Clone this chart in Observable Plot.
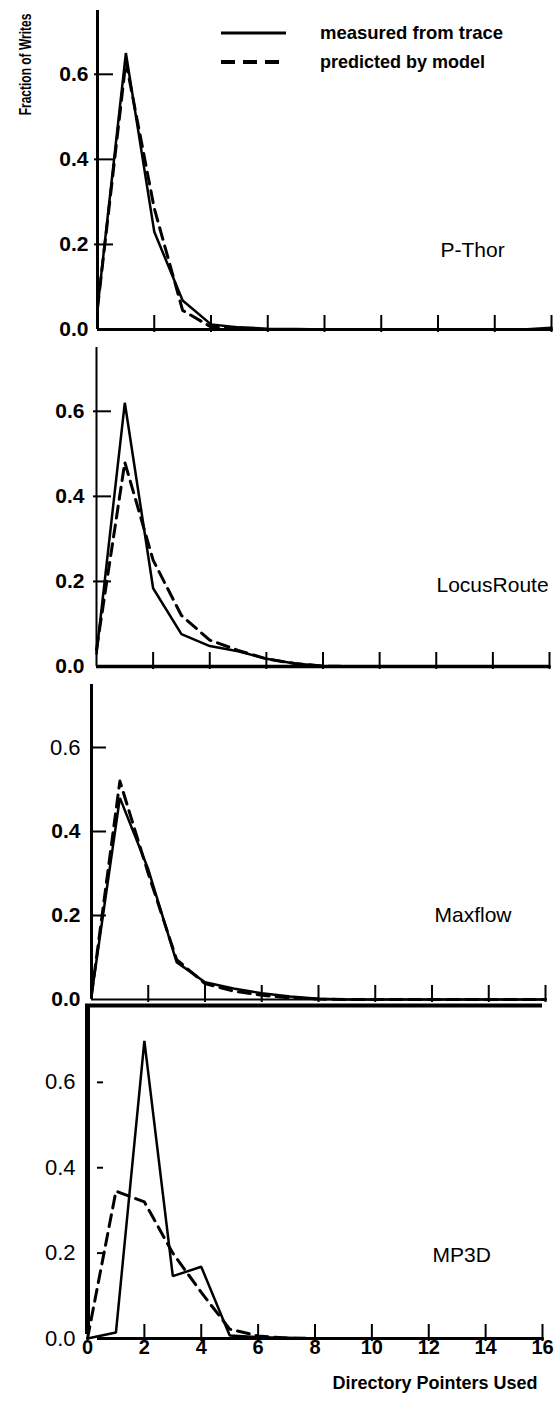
<!DOCTYPE html>
<html>
<head>
<meta charset="utf-8">
<script src="https://cdn.jsdelivr.net/npm/d3@7"></script>
<script src="https://cdn.jsdelivr.net/npm/@observablehq/plot@0.6"></script>
<style>
  html, body { margin: 0; padding: 0; background: #fff; }
  #chart { position: relative; width: 555px; height: 1401px; overflow: hidden; background: #fff;
           font-family: "Liberation Sans", Arial, Helvetica, sans-serif; }
  #chart svg { position: absolute; left: 0; }
</style>
</head>
<body>
<div id="chart"></div>
<script>
// ---------- data ----------
const pointers = [0, 1, 2, 3, 4, 5, 6, 7, 8, 9, 10, 11, 12, 13, 14, 15, 16];
const xTickValues = [2, 4, 6, 8, 10, 12, 14, 16];
const xTickLabels = [0, 2, 4, 6, 8, 10, 12, 14, 16];
const yTickValues = [0, 0.2, 0.4, 0.6];

const pthorMeasured = [0.05, 0.65, 0.23, 0.068, 0.012, 0.005, 0.002, 0.001, 0, 0, 0, 0, 0, 0, 0, 0, 0.004];
const pthorModel    = [0.05, 0.63, 0.285, 0.045, 0.006, 0.001, 0, 0, 0, 0, 0, 0, 0, 0, 0, 0, 0];

const locusMeasured = [0.03, 0.62, 0.184, 0.076, 0.048, 0.036, 0.018, 0.007, 0.001, 0, 0, 0, 0, 0, 0, 0, 0];
const locusModel    = [0.04, 0.48, 0.25, 0.12, 0.062, 0.038, 0.018, 0.007, 0.001, 0, 0, 0, 0, 0, 0, 0, 0];

const maxflowMeasured = [0.01, 0.48, 0.31, 0.089, 0.041, 0.026, 0.015, 0.007, 0.002, 0, 0, 0, 0, 0, 0, 0, 0];
const maxflowModel    = [0.01, 0.52, 0.30, 0.095, 0.038, 0.02, 0.01, 0.004, 0.001, 0, 0, 0, 0, 0, 0, 0, 0];

const mp3dMeasured = [0, 0.014, 0.697, 0.146, 0.168, 0.007, 0.003, 0.002, 0, 0, 0, 0, 0, 0, 0, 0, 0];
const mp3dModel    = [0, 0.345, 0.32, 0.2, 0.108, 0.022, 0.006, 0.001, 0, 0, 0, 0, 0, 0, 0, 0, 0];

const legendLabels = ["measured from trace", "predicted by model"];
const yTitle = "Fraction of Writes";
const xTitle = "Directory Pointers Used";

// ---------- layout ----------
const FONT = '"Liberation Sans", Arial, Helvetica, sans-serif';
const W = 555;
const panels = [
  { name: "P-Thor", measured: pthorMeasured, model: pthorModel,
    top: 0, height: 336, mT: 10, mB: 7, mL: 97, mR: 4, yMax: 0.75,
    axisW: 3, zeroW: 3, zeroInset: 0, yTickLen: 16, yTickIn: -3, tickDx: -9,
    boldLabels: [0, 0.2, 0.4, 0.6], labelDx: 343, labelDy: 232 },
  { name: "LocusRoute", measured: locusMeasured, model: locusModel,
    top: 336, height: 334, mT: 11, mB: 4, mL: 96, mR: 6, yMax: 0.75,
    axisW: 2, zeroW: 3.5, zeroInset: 0, yTickLen: 15, yTickIn: -3, tickDx: -12,
    boldLabels: [0, 0.2, 0.4, 0.6], labelDx: 340, labelDy: 230 },
  { name: "Maxflow", measured: maxflowMeasured, model: maxflowModel,
    top: 670, height: 333, mT: 14, mB: 4, mL: 91, mR: 10, yMax: 0.75,
    axisW: 3, zeroW: 2, zeroInset: 0, yTickLen: 15, yTickIn: -1, tickDx: -11,
    boldLabels: [0, 0.2, 0.4], labelDx: 343, labelDy: 223 },
  { name: "MP3D", measured: mp3dMeasured, model: mp3dModel,
    top: 1003, height: 398, mT: 2, mB: 63, mL: 87, mR: 13, yMax: 0.78,
    axisW: 5, zeroW: 3, zeroInset: 10, yTickLen: 16, yTickIn: 10, tickDx: -12,
    boldLabels: [], labelDx: 345, labelDy: 242,
    bottom: true }
];

const chart = document.getElementById("chart");

panels.forEach((p, idx) => {
  const frameW = W - p.mL - p.mR;
  const frameH = p.height - p.mT - p.mB;
  const rows = pointers.map((x, i) => ({ x, measured: p.measured[i], model: p.model[i] }));
  const boldVals = yTickValues.filter(v => p.boldLabels.includes(v));
  const normalVals = yTickValues.filter(v => !p.boldLabels.includes(v));

  const marks = [
    // y axis line
    Plot.ruleX([0], { stroke: "#000", strokeWidth: p.axisW, insetBottom: p.bottom ? 4 : 0 }),
    // x axis (zero) line
    Plot.ruleY([0], { stroke: "#000", strokeWidth: p.zeroW, insetLeft: p.zeroInset }),
    // y ticks (pointing inward)
    Plot.tickY(yTickValues.filter(v => v > 0), {
      y: d => d, stroke: "#000", strokeWidth: 2,
      insetLeft: p.yTickIn, insetRight: frameW - p.yTickLen
    }),
    // x ticks
    Plot.tickX(xTickValues, {
      x: d => d, stroke: "#000", strokeWidth: 2,
      insetTop: frameH - 14, insetBottom: -3
    }),
    // y tick labels
    Plot.text(boldVals, {
      y: d => d, text: d => d.toFixed(1), frameAnchor: "left", dx: p.tickDx,
      textAnchor: "end", fontSize: 21, fontWeight: "bold", fill: "#000"
    }),
    Plot.text(normalVals, {
      y: d => d, text: d => d.toFixed(1), frameAnchor: "left", dx: p.tickDx,
      textAnchor: "end", fontSize: 22, fontWeight: "normal", fill: "#000"
    }),
    // curves
    Plot.line(rows, { x: "x", y: "measured", stroke: "#000", strokeWidth: 2.5, strokeLinejoin: "miter" }),
    Plot.line(rows, { x: "x", y: "model", stroke: "#000", strokeWidth: 3, strokeDasharray: "12,7" }),
    // panel name
    Plot.text([p.name], {
      text: d => d, frameAnchor: "top-left", dx: p.labelDx, dy: p.labelDy,
      textAnchor: "start", fontSize: 21, fill: "#000"
    })
  ];

  if (idx === 0) {
    marks.push(Plot.text([yTitle], {
      text: d => d, frameAnchor: "top-left", dx: -78, dy: 54, rotate: -90,
      textAnchor: "middle", fontSize: 12, fontWeight: "bold", fill: "#000"
    }));
  }
  if (p.bottom) {
    marks.push(Plot.ruleY([p.yMax], { stroke: "#000", strokeWidth: 4, insetLeft: -2 }));
    marks.push(Plot.text(xTickLabels, {
      x: d => d, text: d => String(d), frameAnchor: "bottom", dy: 15,
      fontSize: 20, fontWeight: "bold", fill: "#000"
    }));
    marks.push(Plot.text([xTitle], {
      text: d => d, frameAnchor: "bottom-right", dx: -5, dy: 50,
      textAnchor: "end", fontSize: 18, fontWeight: "bold", fill: "#000"
    }));
  }

  const svg = Plot.plot({
    width: W, height: p.height,
    marginLeft: p.mL, marginRight: p.mR, marginTop: p.mT, marginBottom: p.mB,
    x: { domain: [0, 16], axis: null },
    y: { domain: [0, p.yMax], axis: null },
    style: { background: "transparent", overflow: "visible", fontFamily: FONT, color: "#000" },
    marks
  });
  svg.style.position = "absolute";
  svg.style.top = p.top + "px";
  svg.style.left = "0px";
  // stretch the narrow y-title glyphs perpendicular to the text direction
  d3.select(svg).selectAll("text")
    .filter(function () { return this.textContent === yTitle; })
    .each(function () {
      const t = this.getAttribute("transform") || "";
      this.setAttribute("transform", t + " scale(1,1.4)");
    });
  chart.appendChild(svg);
});

// ---------- legend ----------
const legendSvg = d3.create("svg")
  .attr("width", 340).attr("height", 80)
  .style("position", "absolute").style("left", "210px").style("top", "10px")
  .style("overflow", "visible");
const legendStyles = [null, "14,8"];
legendLabels.forEach((lab, i) => {
  const y = 23 + i * 29;
  legendSvg.append("line")
    .attr("x1", 11).attr("x2", 76).attr("y1", y).attr("y2", y)
    .attr("stroke", "#000").attr("stroke-width", i === 0 ? 3 : 4)
    .attr("stroke-dasharray", legendStyles[i]);
  legendSvg.append("text")
    .attr("x", 110).attr("y", y).attr("dy", "0.35em")
    .attr("font-family", FONT).attr("font-size", i === 0 ? 18.5 : 18).attr("font-weight", "bold")
    .text(lab);
});
chart.appendChild(legendSvg.node());
</script>
</body>
</html>
